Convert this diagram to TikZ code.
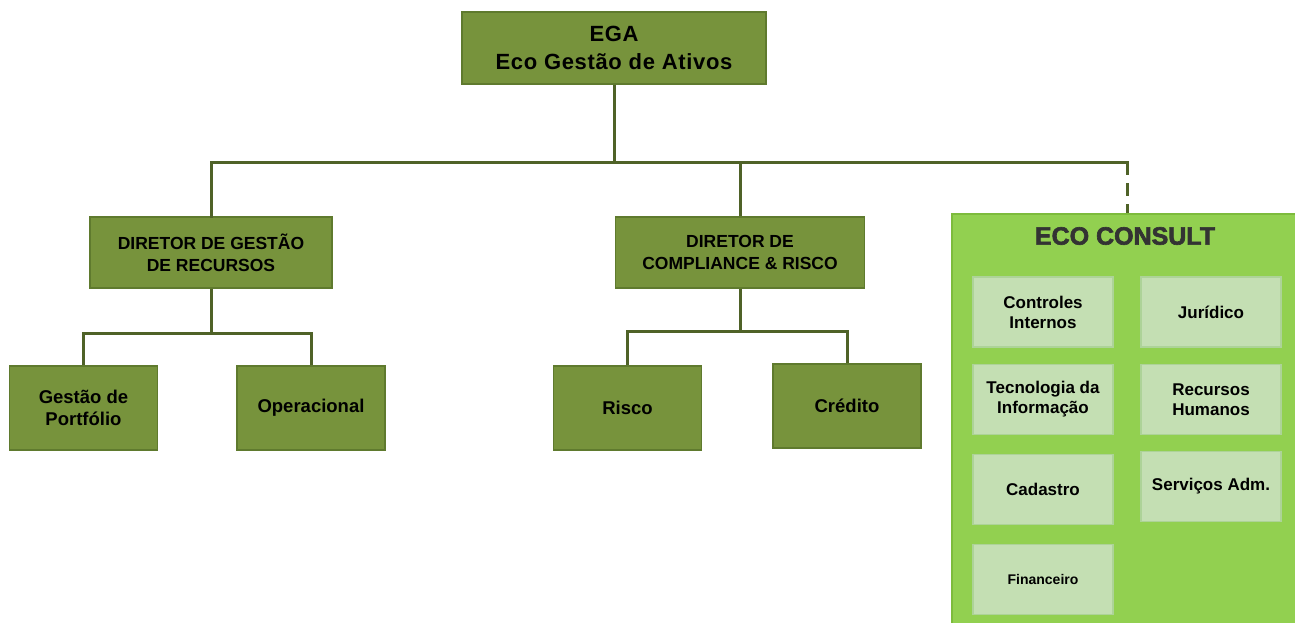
\documentclass[tikz,border=0pt]{standalone}
\usepackage{fontspec}
\setmainfont{Liberation Sans}
\definecolor{olivefill}{HTML}{77933C}
\definecolor{olivedraw}{HTML}{5F7A2E}
\definecolor{linecol}{HTML}{4F6228}
\definecolor{ecofill}{HTML}{92D050}
\definecolor{ecodraw}{HTML}{7DBB3C}
\definecolor{innerfill}{HTML}{C4DFB3}
\definecolor{innerdraw}{HTML}{ADD398}
\definecolor{ecotext}{HTML}{333333}
\tikzset{
  orgbox/.style={draw=olivedraw, fill=olivefill, line width=1.5pt, align=center,
    font=\bfseries, text=black, inner sep=2pt},
  innerbox/.style={draw=innerdraw, fill=innerfill, line width=1.5pt, align=center,
    minimum width=140pt, minimum height=70pt, text=black, inner sep=2pt},
  conn/.style={draw=linecol, line width=3pt},
}
\begin{document}
\begin{tikzpicture}[x=1pt,y=-1pt]
\useasboundingbox (0,0) rectangle (1295,623);
% top
\node[orgbox, minimum width=304pt, minimum height=72pt,
  font=\bfseries\fontsize{22}{28}\selectfont\addfontfeatures{LetterSpace=3}] (ega) at (614,48) {EGA\\Eco Gestão de Ativos};
% directors
\node[orgbox, minimum width=242pt, minimum height=71pt,
  font=\bfseries\fontsize{17.5}{22}\selectfont] (d1) at (211,252.5) {DIRETOR DE GESTÃO\\DE RECURSOS};
\node[orgbox, minimum width=249pt, minimum height=71pt,
  font=\bfseries\fontsize{17.5}{22}\selectfont] (d2) at (740,252.5) {DIRETOR DE\\COMPLIANCE \& RISCO};
% children
\tikzset{child/.style={orgbox, minimum width=148pt, minimum height=84pt,
  font=\bfseries\fontsize{18.5}{22}\selectfont}}
\node[child] (gp) at (83.5,408) {Gestão de\\Portfólio};
\node[child] (op) at (311,408) {Operacional};
\node[child] (ri) at (627.5,408) {Risco};
\node[child] (cr) at (847,406) {Crédito};
% eco consult
\node[draw=ecodraw, fill=ecofill, line width=1.5pt, minimum width=350pt, minimum height=420pt,
  anchor=north west, inner sep=0pt] (eco) at (951,213) {};
\node[font=\bfseries\fontsize{25}{28}\selectfont\addfontfeatures{FakeBold=2.5}, text=ecotext]
  (ecot) at (1125,236) {ECO CONSULT};
\tikzset{inner/.style={innerbox, font=\bfseries\fontsize{17}{20}\selectfont}}
\node[inner] (ci) at (1043,312) {Controles\\Internos};
\node[inner] (ju) at (1211,312) {Jurídico};
\node[inner] (ti) at (1043,399.5) {Tecnologia da\\Informação};
\node[inner] (rh) at (1211,399.5) {Recursos\\Humanos};
\node[inner] (ca) at (1043,489.5) {Cadastro};
\node[inner] (sa) at (1211,486.5) {Serviços Adm.};
\node[innerbox, font=\bfseries\fontsize{14}{16}\selectfont] (fi) at (1043,579.5) {Financeiro};
% connectors
\coordinate (busL) at (211,162);
\coordinate (busR) at (1127,162);
\draw[conn] (ega.south) -- (ega.south |- busL);
\draw[conn, line cap=rect] (d1.north) -- (busL) -- (busR);
\draw[conn] (d2.north) -- (d2.north |- busL);
\draw[conn, dash pattern=on 13pt off 8pt] (busR) -- (busR |- eco.north);
\coordinate (j1) at (211,333);
\draw[conn] (d1.south) -- (j1);
\draw[conn] (gp.north) |- (j1) -| (op.north);
\coordinate (j2) at (740,331);
\draw[conn] (d2.south) -- (j2);
\draw[conn] (ri.north) |- (j2) -| (cr.north);
\end{tikzpicture}
\end{document}
